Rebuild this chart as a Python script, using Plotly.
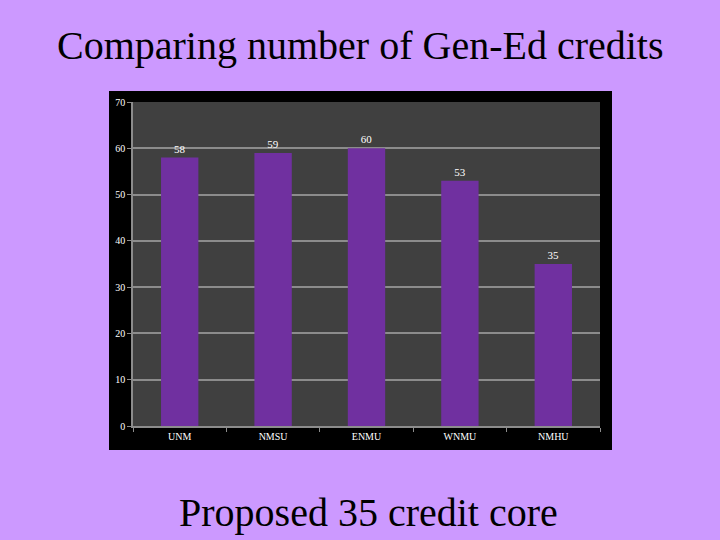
import plotly.graph_objects as go

categories = ["UNM", "NMSU", "ENMU", "WNMU", "NMHU"]
credits = [58, 59, 60, 53, 35]
y_ticks = [0, 10, 20, 30, 40, 50, 60, 70]

serif = "Liberation Serif, Times New Roman, serif"

fig = go.Figure()
fig.add_trace(go.Bar(
    x=categories, y=credits,
    marker=dict(color="#7030A0", line=dict(width=0)),
    width=0.4,
    text=[str(v) for v in credits],
    textposition="outside",
    textfont=dict(family=serif, size=11, color="white"),
    cliponaxis=False,
))

fig.update_layout(
    width=720, height=540,
    paper_bgcolor="#CC99FF",
    plot_bgcolor="#404040",
    margin=dict(l=133, r=120, t=102, b=114),
    showlegend=False,
    shapes=[
        dict(type="rect", xref="paper", yref="paper",
             x0=-0.0514, x1=1.0257, y0=-0.074, y1=1.034,
             fillcolor="black", line=dict(width=0), layer="below"),
        dict(type="rect", xref="paper", yref="paper",
             x0=0, x1=1, y0=0, y1=1,
             fillcolor="#404040", line=dict(width=0), layer="below"),
    ],
    annotations=[
        dict(text="Comparing number of Gen-Ed credits", xref="paper", yref="paper",
             x=(360-133)/467, y=(426-45)/324, xanchor="center", yanchor="middle",
             showarrow=False, font=dict(family=serif, size=40, color="black")),
        dict(text="Proposed 35 credit core", xref="paper", yref="paper",
             x=(368-133)/467, y=(426-512)/324, xanchor="center", yanchor="middle",
             showarrow=False, font=dict(family=serif, size=40, color="black")),
    ],
)
fig.update_yaxes(range=[0, 70], tickvals=y_ticks, showgrid=True, gridcolor="#8C8C8C", gridwidth=1.5,
                 showline=True, linecolor="#8C8C8C", linewidth=1.5, ticks="outside", ticklen=4,
                 tickcolor="#8C8C8C", zeroline=False,
                 tickfont=dict(family=serif, size=10, color="white"))
fig.update_xaxes(showline=True, linecolor="#8C8C8C", linewidth=1.5, ticks="outside", ticklen=4,
                 tickcolor="#8C8C8C", tickson="boundaries",
                 tickfont=dict(family=serif, size=10, color="white"))

fig.write_html("out.html", config={"displayModeBar": False},
               post_script="document.body.style.margin='0';")
